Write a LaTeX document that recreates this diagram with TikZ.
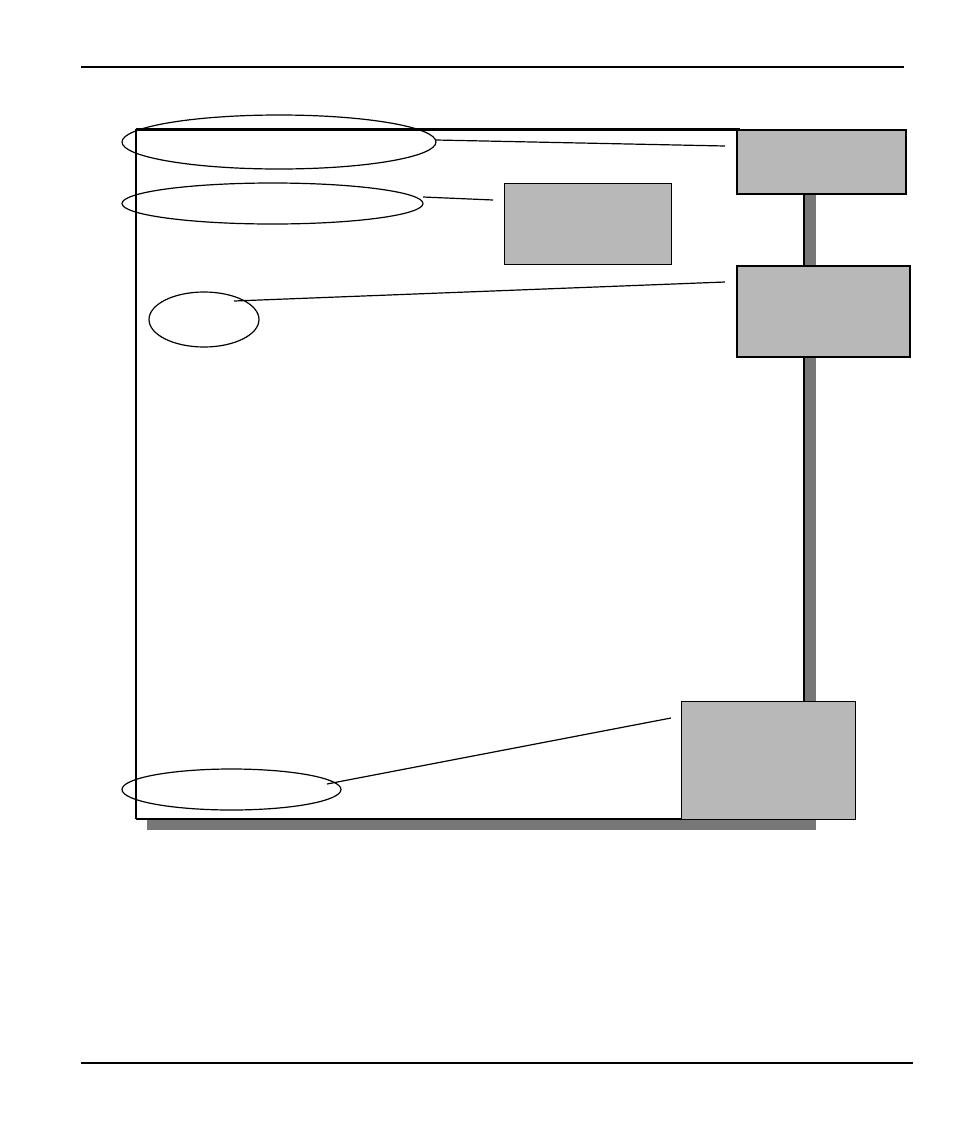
\documentclass[tikz,border=0pt]{standalone}
\usetikzlibrary{shapes.geometric}
\definecolor{boxgray}{RGB}{184,184,184}
\definecolor{shadowgray}{RGB}{119,119,119}
\tikzset{
  grayblock/.style={draw=black, fill=boxgray, anchor=north west, inner sep=0pt},
  callout/.style={draw=black, ellipse, inner sep=0pt, line width=0.9pt},
  leader/.style={draw=black, line width=0.9pt},
}
\begin{document}
\begin{tikzpicture}[x=0.75pt, y=-0.75pt]
\useasboundingbox (0,0) rectangle (954,1132);
% header / footer rules
\coordinate (hl) at (81,67); \coordinate (hr) at (904,67);
\draw[line width=0.9pt] (hl) -- (hr);
\coordinate (fl) at (81,1063); \coordinate (fr) at (913,1063);
\draw[line width=1.6pt] (fl) -- (fr);
% window with shadow
\fill[shadowgray] (147,140) rectangle (816,830);
\fill[white] (136,129) rectangle (804,819);
\draw[line width=0.8pt] (136,129) -- (136,819);
\draw[line width=0.8pt] (804,129) -- (804,819);
\draw[line width=1.6pt] (135.5,129.5) -- (740,129.5);
\draw[line width=1.6pt] (135.5,819) -- (804,819);
% boxes
\node[grayblock, line width=1.5pt, minimum width=169*0.75pt, minimum height=64*0.75pt] (b1) at (735.5,128.5) {};
\node[grayblock, line width=1.2pt, minimum width=167*0.75pt, minimum height=81*0.75pt] (b2) at (503.5,182.5) {};
\node[grayblock, line width=1.5pt, minimum width=173*0.75pt, minimum height=91*0.75pt] (b3) at (735.5,264.5) {};
\node[grayblock, line width=0.8pt, minimum width=174*0.75pt, minimum height=118*0.75pt] (b4) at (681,701) {};
% callout ellipses
\node[callout, minimum width=314*0.75pt, minimum height=54*0.75pt] (e1) at (279,142) {};
\node[callout, minimum width=301*0.75pt, minimum height=41*0.75pt] (e2) at (272.5,203.5) {};
\node[callout, minimum width=110*0.75pt, minimum height=55*0.75pt] (e3) at (204,319.5) {};
\node[callout, minimum width=219*0.75pt, minimum height=41*0.75pt] (e4) at (231.5,789.5) {};
% leader lines
\coordinate (s1) at (436,140); \coordinate (t1) at (725,146);
\coordinate (s2) at (423,197); \coordinate (t2) at (493,200);
\coordinate (s3) at (234,301); \coordinate (t3) at (725,282);
\coordinate (s4) at (327,784); \coordinate (t4) at (671,718);
\draw[leader] (s1) -- (t1);
\draw[leader] (s2) -- (t2);
\draw[leader] (s3) -- (t3);
\draw[leader] (s4) -- (t4);
\end{tikzpicture}
\end{document}
